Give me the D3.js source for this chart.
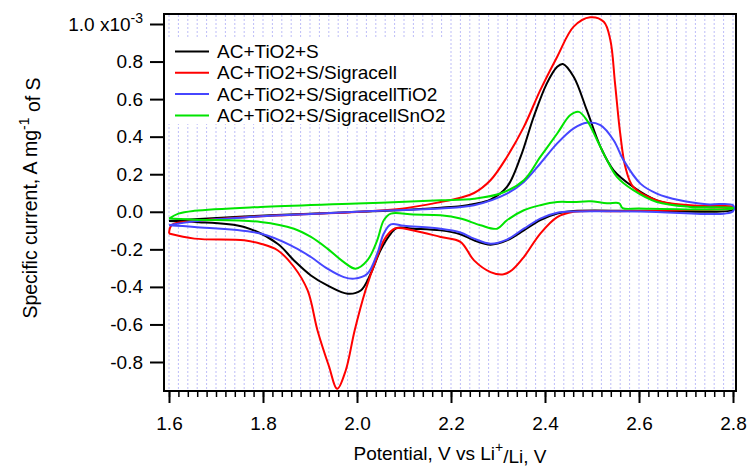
<!DOCTYPE html>
<meta charset="utf-8">
<head>
<script src="https://cdn.jsdelivr.net/npm/d3@7"></script>
</head>
<style>
    body { margin: 0; background: #fff; }
    svg text { font-family: "Liberation Sans", Arial, Helvetica, sans-serif; fill: #000; }
</style>
<body>
<svg id="chart" width="747" height="467"></svg>
<script>
'use strict';

// tick values (current in units of 1e-3 A/mg)
const xMajorTicks = [1.6, 1.8, 2.0, 2.2, 2.4, 2.6, 2.8];
const yTicks = [-0.8, -0.6, -0.4, -0.2, 0.0, 0.2, 0.4, 0.6, 0.8, 1.0];

const seriesNames = ["AC+TiO2+S", "AC+TiO2+S/Sigracell", "AC+TiO2+S/SigracellTiO2", "AC+TiO2+S/SigracellSnO2"];
const seriesColors = ["#000000", "#ff0000", "#4646ff", "#00e400"];

// [potential V, current], anodic sweep (1.6 -> 2.8) and cathodic sweep
const blackAnodic = [[1.60,-0.049],[1.654,-0.04],[1.76,-0.025],[1.90,-0.01],[2.00,0.0],[2.10,0.01],[2.178,0.022],[2.22,0.03],[2.249,0.042],[2.284,0.065],[2.319,0.132],[2.348,0.292],[2.376,0.506],[2.404,0.684],[2.426,0.772],[2.438,0.787],[2.461,0.719],[2.489,0.541],[2.518,0.346],[2.546,0.221],[2.588,0.132],[2.638,0.061],[2.687,0.035],[2.744,0.025],[2.80,0.02]];
const blackCathodic = [[1.60,-0.049],[1.654,-0.054],[1.76,-0.081],[1.831,-0.17],[1.866,-0.259],[1.902,-0.339],[1.937,-0.392],[1.98,-0.436],[2.008,-0.419],[2.029,-0.33],[2.05,-0.205],[2.072,-0.116],[2.085,-0.086],[2.12,-0.09],[2.178,-0.099],[2.22,-0.12],[2.249,-0.152],[2.284,-0.175],[2.319,-0.152],[2.355,-0.099],[2.39,-0.045],[2.426,-0.01],[2.461,0.004],[2.60,0.005],[2.80,0.01]];

const redAnodic = [[1.60,-0.116],[1.606,-0.07],[1.654,-0.05],[1.795,-0.024],[1.90,-0.012],[2.00,-0.001],[2.10,0.018],[2.178,0.052],[2.22,0.075],[2.249,0.1],[2.284,0.168],[2.319,0.292],[2.355,0.452],[2.39,0.648],[2.426,0.826],[2.461,0.986],[2.496,1.036],[2.525,1.012],[2.539,0.915],[2.549,0.684],[2.56,0.417],[2.571,0.239],[2.588,0.132],[2.638,0.061],[2.709,0.035],[2.80,0.026]];
const redCathodic = [[1.60,-0.116],[1.654,-0.143],[1.76,-0.152],[1.795,-0.17],[1.831,-0.205],[1.866,-0.294],[1.895,-0.419],[1.916,-0.632],[1.94,-0.82],[1.958,-0.943],[1.976,-0.845],[1.995,-0.632],[2.018,-0.419],[2.04,-0.26],[2.06,-0.14],[2.082,-0.088],[2.12,-0.1],[2.178,-0.134],[2.22,-0.16],[2.249,-0.259],[2.284,-0.321],[2.312,-0.333],[2.33,-0.31],[2.355,-0.241],[2.39,-0.116],[2.426,-0.028],[2.461,0.0],[2.55,0.003],[2.70,0.01],[2.80,0.02]];

const blueAnodic = [[1.60,-0.072],[1.654,-0.05],[1.76,-0.03],[1.90,-0.012],[2.00,0.0],[2.10,0.01],[2.178,0.018],[2.249,0.035],[2.319,0.097],[2.355,0.159],[2.39,0.257],[2.426,0.364],[2.461,0.444],[2.489,0.474],[2.518,0.461],[2.546,0.381],[2.567,0.275],[2.603,0.15],[2.638,0.097],[2.687,0.061],[2.744,0.04],[2.80,0.035]];
const blueCathodic = [[1.60,-0.072],[1.654,-0.081],[1.795,-0.116],[1.866,-0.188],[1.902,-0.241],[1.937,-0.303],[1.972,-0.348],[1.994,-0.356],[2.022,-0.33],[2.043,-0.223],[2.057,-0.116],[2.072,-0.067],[2.10,-0.075],[2.178,-0.09],[2.22,-0.11],[2.249,-0.143],[2.284,-0.17],[2.319,-0.148],[2.355,-0.09],[2.39,-0.036],[2.426,-0.005],[2.461,0.002],[2.60,0.002],[2.80,0.003]];

const greenAnodic = [[1.60,-0.036],[1.62,-0.01],[1.654,0.005],[1.795,0.026],[2.00,0.044],[2.178,0.061],[2.249,0.07],[2.305,0.097],[2.355,0.168],[2.39,0.292],[2.426,0.417],[2.454,0.515],[2.472,0.532],[2.489,0.488],[2.511,0.381],[2.532,0.275],[2.553,0.186],[2.588,0.115],[2.638,0.052],[2.709,0.026],[2.80,0.02]];
const greenCathodic = [[1.60,-0.036],[1.654,-0.042],[1.795,-0.054],[1.866,-0.09],[1.902,-0.134],[1.937,-0.196],[1.972,-0.268],[1.997,-0.303],[2.022,-0.259],[2.043,-0.152],[2.057,-0.045],[2.072,-0.01],[2.12,-0.015],[2.178,-0.019],[2.22,-0.036],[2.263,-0.072],[2.298,-0.09],[2.319,-0.045],[2.355,0.008],[2.39,0.035],[2.426,0.052],[2.461,0.052],[2.496,0.056],[2.532,0.045],[2.558,0.045],[2.565,0.02],[2.60,0.017],[2.80,0.017]];

const loops = [
    [blackAnodic, blackCathodic],
    [redAnodic, redCathodic],
    [blueAnodic, blueCathodic],
    [greenAnodic, greenCathodic]
];

const frame = { left: 164, right: 736, top: 14, bottom: 391 };

const svg = d3.select("#chart");

const x = d3.scaleLinear().domain([1.6, 2.8]).range([169, 733]);
const y = d3.scaleLinear().domain([-0.8, 1.0]).range([362, 24]);

const minorTicks = d3.range(0, 61).map(i => 1.6 + i * 0.02);

// dotted vertical grid
svg.append("g")
    .selectAll("line")
    .data(minorTicks)
    .join("line")
    .attr("x1", d => x(d)).attr("x2", d => x(d))
    .attr("y1", frame.top + 1).attr("y2", frame.bottom - 1)
    .attr("stroke", "#a8a8f6")
    .attr("stroke-width", 1)
    .attr("stroke-dasharray", "2,2")
    .attr("opacity", 0.75);

// legend background covers the grid
svg.append("rect")
    .attr("x", 166).attr("y", 38)
    .attr("width", 283).attr("height", 86)
    .attr("fill", "#fff");

const line = d3.line()
    .x(d => x(d[0]))
    .y(d => y(d[1]))
    .curve(d3.curveCatmullRom.alpha(0.5));

svg.append("g")
    .selectAll("path")
    .data(loops)
    .join("path")
    .attr("d", d => line(d[0].concat(d[1].slice().reverse())))
    .attr("fill", "none")
    .attr("stroke", (d, i) => seriesColors[i])
    .attr("stroke-width", 2)
    .attr("stroke-linejoin", "round");

// frame
svg.append("rect")
    .attr("x", frame.left).attr("y", frame.top)
    .attr("width", frame.right - frame.left)
    .attr("height", frame.bottom - frame.top)
    .attr("fill", "none")
    .attr("stroke", "#000")
    .attr("stroke-width", 2);

// bottom axis: minor + major ticks
const xMinorAxis = svg.append("g")
    .attr("transform", `translate(0,${frame.bottom})`)
    .call(d3.axisBottom(x).tickValues(minorTicks).tickSize(6).tickFormat(""));
xMinorAxis.select(".domain").remove();
xMinorAxis.selectAll("line").attr("stroke-width", 1.5);

const xAxis = svg.append("g")
    .attr("transform", `translate(0,${frame.bottom})`)
    .call(d3.axisBottom(x).tickValues(xMajorTicks).tickSize(12).tickPadding(14)
        .tickFormat(d => d.toFixed(1)));
xAxis.select(".domain").remove();
xAxis.selectAll("line").attr("stroke-width", 2);
xAxis.selectAll("text").style("font-size", "19px");

// left axis
const yAxis = svg.append("g")
    .attr("transform", `translate(${frame.left},0)`)
    .call(d3.axisLeft(y).tickValues(yTicks).tickSize(14).tickPadding(7)
        .tickFormat(d => d.toFixed(1)));
yAxis.select(".domain").remove();
yAxis.selectAll("line").attr("stroke-width", 2);
yAxis.selectAll("text").style("font-size", "19px");
yAxis.selectAll("text").filter(d => d === 1.0)
    .text("1.0 x10")
    .append("tspan").attr("dy", "-0.55em").style("font-size", "14px").text("-3");

// axis titles
const yTitle = svg.append("text")
    .attr("transform", "translate(37,198) rotate(-90)")
    .attr("text-anchor", "middle")
    .style("font-size", "19.5px");
yTitle.append("tspan").text("Specific current, A mg");
yTitle.append("tspan").attr("dy", "-0.55em").style("font-size", "14px").text("-1");
yTitle.append("tspan").attr("dy", "0.55em").text(" of S");

const xTitle = svg.append("text")
    .attr("x", 450).attr("y", 460)
    .attr("text-anchor", "middle")
    .style("font-size", "19px");
xTitle.append("tspan").text("Potential, V vs Li");
xTitle.append("tspan").attr("dy", "-0.55em").style("font-size", "14px").text("+");
xTitle.append("tspan").attr("dy", "0.55em").text("/Li, V");

// legend
const legend = svg.append("g")
    .selectAll("g")
    .data(seriesNames)
    .join("g")
    .attr("transform", (d, i) => `translate(175,${51.5 + i * 21.3})`);
legend.append("line")
    .attr("x1", 0).attr("x2", 34)
    .attr("stroke", (d, i) => seriesColors[i])
    .attr("stroke-width", 2);
legend.append("text")
    .attr("x", 42).attr("dy", "0.35em")
    .style("font-size", "19px")
    .text(d => d);
</script>
</body>
